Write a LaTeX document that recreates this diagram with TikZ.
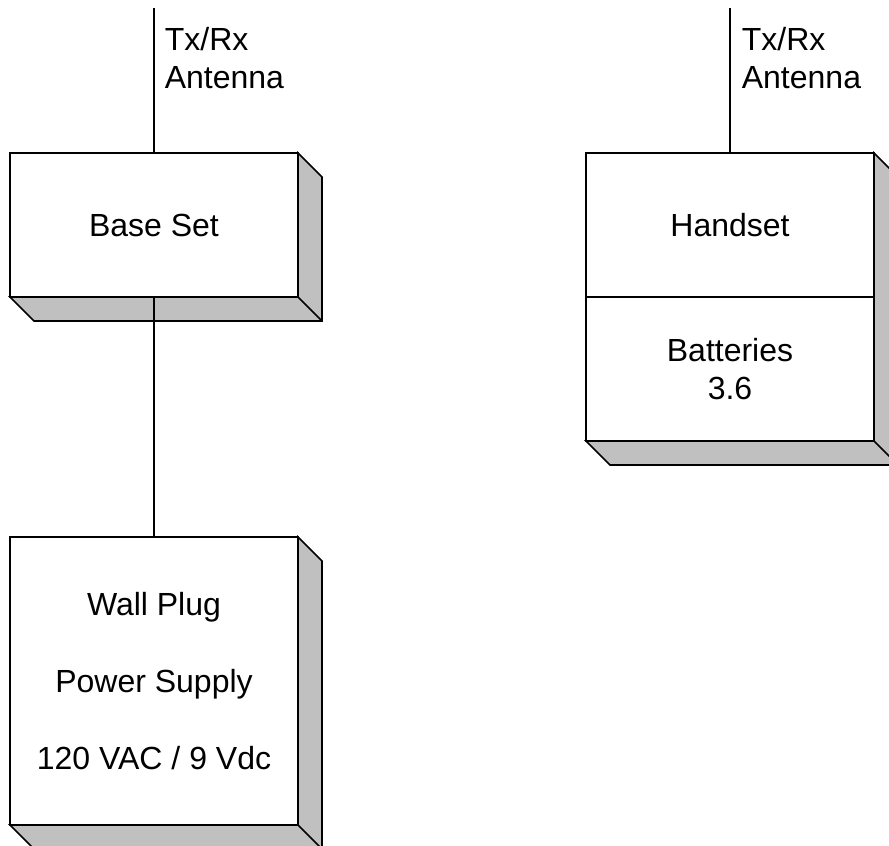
\documentclass[tikz,border=0pt]{standalone}
\usepackage{fontspec}
\setmainfont{Liberation Sans}
\usetikzlibrary{positioning}
\definecolor{bevelgray}{RGB}{192,192,192}

\begin{document}
\begin{tikzpicture}[x=0.75pt,y=-0.75pt,line width=1.25pt,
  unit/.style={draw,fill=white,rectangle,minimum width=216pt,minimum height=#1,align=center,inner sep=0pt,outer sep=0pt,font=\fontsize{24}{29}\selectfont},
  ant/.style={anchor=north west,align=left,inner sep=0pt,font=\fontsize{24}{29}\selectfont},
  bevel/.style={fill=bevelgray,line join=miter}]
\useasboundingbox (0,0) rectangle (889,846);
\node[unit=108pt] (base) at (154,225) {Base Set};
\node[unit=108pt] (hand) at (730,225) {Handset};
\node[unit=108pt,below=0pt of hand] (batt) {Batteries\\3.6};
\node[unit=216pt] (wall) at (154,681) {Wall Plug\\[28.5pt]Power Supply\\[28.5pt]120 VAC / 9 Vdc};
% shaded sides
\foreach \top/\bot in {base/base,hand/batt,wall/wall} {
   \filldraw[bevel] (\top.north east) -- ++(24,24) |- ([shift={(24,24)}]\bot.south west)
      -- (\bot.south west) -- (\bot.south east) -- cycle;
   \draw (\bot.south east) -- ++(24,24);
}
\draw (base.south) -- (wall.north);
% antennas
\coordinate (tip1) at (154,8);
\coordinate (tip2) at (730,8);
\draw (tip1) -- (base.north);
\draw (tip2) -- (hand.north);
\node[ant] (lbl1) at (164,26) {Tx/Rx\\Antenna};
\node[ant] (lbl2) at (741,26) {Tx/Rx\\Antenna};
\end{tikzpicture}
\end{document}
